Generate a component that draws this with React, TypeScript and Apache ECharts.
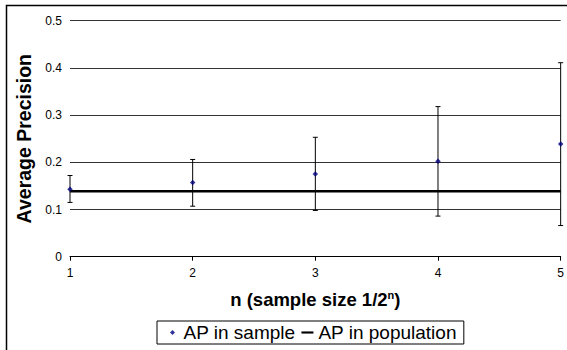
import { useEffect, useRef } from 'react';
import * as echarts from 'echarts';

const nValues = [1, 2, 3, 4, 5];
const apSample = [0.143, 0.157, 0.175, 0.202, 0.239];
const errLow = [0.115, 0.107, 0.098, 0.086, 0.066];
const errHigh = [0.172, 0.206, 0.253, 0.318, 0.411];
const apPopulation = 0.1385;
const seriesNames = ['AP in sample', 'AP in population'];
const xTitle = 'n (sample size 1/2';
const xTitleSup = 'n';
const yTitle = 'Average Precision';

export default function App() {
  const ref = useRef<HTMLDivElement>(null);
  useEffect(() => {
    const chart = echarts.init(ref.current!, null, { renderer: 'svg' });
    const font = '"Liberation Sans", Arial, sans-serif';
    chart.setOption({
      animation: false,
      backgroundColor: '#fff',
      textStyle: { fontFamily: font },
      grid: { left: 70, right: 6.3, top: 20.7, bottom: 93.3 },
      xAxis: {
        type: 'value',
        min: 1,
        max: 5,
        interval: 1,
        name: `{a|${xTitle}}{s|${xTitleSup}}{a|)}`,
        nameLocation: 'middle',
        nameGap: 33,
        nameTextStyle: {
          rich: {
            a: { fontSize: 18.5, fontWeight: 'bold', fontFamily: font, color: '#000' },
            s: { fontSize: 11, fontWeight: 'bold', fontFamily: font, color: '#000', verticalAlign: 'top' },
          },
        },
        axisLine: { onZero: false, lineStyle: { color: '#000', width: 1 } },
        axisTick: { show: true, length: 4, lineStyle: { color: '#000' } },
        axisLabel: { fontSize: 12, color: '#000', margin: 10, fontFamily: font },
        splitLine: { show: false },
      },
      yAxis: {
        type: 'value',
        min: 0,
        max: 0.5,
        interval: 0.1,
        name: yTitle,
        nameLocation: 'middle',
        nameGap: 29,
        nameTextStyle: { fontSize: 19.5, fontWeight: 'bold', color: '#000', fontFamily: font },
        axisLine: { show: false },
        axisTick: { show: false },
        axisLabel: { fontSize: 12, color: '#000', margin: 8, fontFamily: font },
        splitLine: { lineStyle: { color: '#333', width: 1 } },
      },
      legend: {
        data: [
          { name: seriesNames[0], icon: 'path://M3,0L6,3L3,6L0,3Z' },
          { name: seriesNames[1], icon: 'path://M0,0H14V2.5H0Z' },
        ],
        left: 157,
        top: 321,
        orient: 'horizontal',
        itemWidth: 12,
        itemHeight: 5,
        itemGap: 6,
        padding: [2, 7, 2, 13],
        borderColor: '#000',
        borderWidth: 1,
        selectedMode: false,
        textStyle: { fontSize: 19, color: '#000', fontFamily: font },
      },
      series: [
        {
          name: seriesNames[1],
          type: 'line',
          data: [
            [nValues[0], apPopulation],
            [nValues[nValues.length - 1], apPopulation],
          ],
          symbol: 'none',
          itemStyle: { color: '#000' },
          lineStyle: { color: '#000', width: 2.5 },
          z: 2,
        },
        {
          name: 'error',
          type: 'custom',
          data: nValues.map((n, i) => [n, errLow[i], errHigh[i]]),
          encode: { x: 0, y: [1, 2] },
          renderItem: (params: any, api: any) => {
            const x = api.value(0);
            const lo = api.coord([x, api.value(1)]);
            const hi = api.coord([x, api.value(2)]);
            const cap = 2.5;
            const st = { stroke: '#000', lineWidth: 1 };
            return {
              type: 'group',
              children: [
                { type: 'line', shape: { x1: lo[0], y1: lo[1], x2: hi[0], y2: hi[1] }, style: st },
                { type: 'line', shape: { x1: lo[0] - cap, y1: lo[1], x2: lo[0] + cap, y2: lo[1] }, style: st },
                { type: 'line', shape: { x1: hi[0] - cap, y1: hi[1], x2: hi[0] + cap, y2: hi[1] }, style: st },
              ],
            };
          },
          z: 3,
        },
        {
          name: seriesNames[0],
          type: 'scatter',
          data: nValues.map((n, i) => [n, apSample[i]]),
          symbol: 'diamond',
          symbolSize: 5.5,
          itemStyle: { color: '#000080' },
          z: 4,
        },
      ],
      graphic: [
        {
          type: 'rect',
          silent: true,
          shape: { x: 6.5, y: 5.5, width: 600, height: 400 },
          style: { fill: 'none', stroke: '#000', lineWidth: 1.5 },
        },
      ],
    });
    return () => chart.dispose();
  }, []);
  return (
    <div
      ref={ref}
      style={{ position: 'fixed', left: 0, top: 0, width: 567, height: 350, background: '#fff' }}
    />
  );
}
